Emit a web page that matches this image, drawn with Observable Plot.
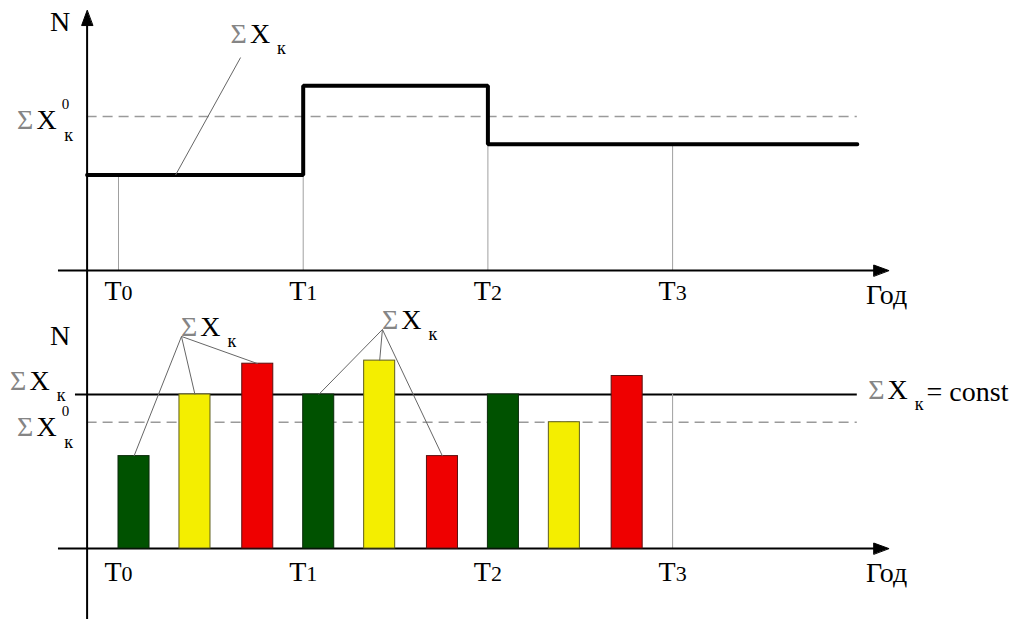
<!DOCTYPE html>
<html>
<head>
<meta charset="utf-8">
<script src="https://cdn.jsdelivr.net/npm/d3@7"></script>
<script src="https://cdn.jsdelivr.net/npm/@observablehq/plot@0.6"></script>
<style>
  html, body { margin: 0; padding: 0; background: #fff; }
  #chart svg { display: block; }
</style>
</head>
<body>
<div id="chart"></div>
<script>
// ---- Data -------------------------------------------------------------
// Period boundaries on the time axis (in periods from T0)
const periods = [0, 1, 2, 3];
const periodLabels = ["T0", "T1", "T2", "T3"];

// Upper panel: total ΣXк as a step function of time
const stepTimes = [-0.17, 1, 2, 4];
const stepValues = [62, 120, 82, 82];
const normTop = 100;            // ΣXк⁰ level in the upper panel

// Lower panel: contributions per sub-period
const barStarts = [0, 0.33, 0.67, 1, 1.33, 1.67, 2, 2.33, 2.67];
const barValues = [60, 100, 120, 100, 122, 60, 100, 82, 112];
const barKinds  = ["green", "yellow", "red", "green", "yellow", "red", "green", "yellow", "red"];
const constLevel = 100;         // ΣXк = const
const normBottom = 82;          // ΣXк⁰ level in the lower panel

// Which bars each ΣXк callout points to
const calloutBars = [[0, 1, 2], [3, 4, 5]];

// ---- Layout -----------------------------------------------------------
const W = 1023;
const pxPerPeriod = 184.7, originPx = 118;   // T0 sits at x = 118 px
const pxPerUnit = 1.54;
const topH = 305, topAxisPx = 270;
const botH = 314, botAxisPx = 243;
const xDomain = [-originPx / pxPerPeriod, (W - originPx) / pxPerPeriod];
const topDomain = [-(topH - topAxisPx) / pxPerUnit, topAxisPx / pxPerUnit];
const botDomain = [-(botH - botAxisPx) / pxPerUnit, botAxisPx / pxPerUnit];

const yAxisT = -0.17;       // vertical N axis
const xAxisStart = -0.325;  // left stub of the time axis
const xAxisEnd = 4.17;      // arrow tip of the time axis
const lineEnd = 4;          // right end of level lines
const yArrowTip = 168.8;    // arrow tip of the N axis
const barWidth = 0.168;

const barColors = {green: "#005200", yellow: "#f4ee00", red: "#ef0000"};
const barStrokes = {green: "#0b2a0b", yellow: "#5e5d1c", red: "#5a1010"};

// callout anchors (leader origin) and label offsets
const topCallout = {x: 0.661, y: 138.3, toX: 0.309, dx: -10, dy: -15};
const botCallouts = [
  {x: 0.341, y: 137.7, dx: -31, dy: -8},
  {x: 1.429, y: 142.2, dx: -14, dy: -12}
];

// ---- Helpers ----------------------------------------------------------
const serif = {fontFamily: "Liberation Serif", fontSize: 28, fill: "black", lineAnchor: "bottom"};
const panelStyle = {background: "transparent", overflow: "visible"};

const arrowHead = {
  draw(context, l) {
    context.moveTo(0, -l);
    context.lineTo(-5.5, 0);
    context.lineTo(5.5, 0);
    context.closePath();
  }
};

function levelAt(t) {
  let v = stepValues[0];
  for (let i = 0; i < stepTimes.length; ++i) if (stepTimes[i] <= t) v = stepValues[i];
  return v;
}

// Turn plain label strings into typeset ones (Σ, subscript к, superscript 0, T digits)
function typeset(svg) {
  const NS = "http://www.w3.org/2000/svg";
  const add = (t, s, attrs = {}) => {
    const ts = document.createElementNS(NS, "tspan");
    for (const [k, v] of Object.entries(attrs)) ts.setAttribute(k, v);
    ts.textContent = s;
    t.appendChild(ts);
  };
  svg.querySelectorAll("text").forEach((t) => {
    const s = t.textContent;
    let m;
    if ((m = /^T(\d)$/.exec(s))) {
      t.textContent = "";
      add(t, "T");
      add(t, m[1], {"font-size": 22});
    } else if (s.startsWith("Σ")) {
      const sup = s.includes("⁰");
      const rest = s.replace(/^ΣX⁰?к/, "");
      t.textContent = "";
      add(t, "Σ", {fill: "#858585"});
      add(t, "X", {dx: 3});
      if (sup) {
        add(t, "0", {"font-size": 15, dx: 5, dy: -20});
        add(t, "к", {"font-size": 18, dx: -5, dy: 32});
      } else {
        add(t, "к", {"font-size": 18, dx: 7, dy: 11});
      }
      if (rest) add(t, rest, {dx: 3, dy: -9});
    }
  });
  return svg;
}

const axisMarks = (domain, withArrowUp) => [
  Plot.ruleY([{y: 0, x1: xAxisStart, x2: xAxisEnd - 0.03}], {y: "y", x1: "x1", x2: "x2", stroke: "black", strokeWidth: 2}),
  Plot.ruleX([{x: yAxisT, y1: domain[0], y2: withArrowUp ? yArrowTip - 8 : domain[1]}], {x: "x", y1: "y1", y2: "y2", stroke: "black", strokeWidth: 2}),
  Plot.vector([{x: xAxisEnd, y: 0}], {x: "x", y: "y", rotate: 90, length: 15, anchor: "end", shape: arrowHead, fill: "black", stroke: "black", strokeWidth: 1}),
  ...(withArrowUp ? [Plot.vector([{x: yAxisT, y: yArrowTip}], {x: "x", y: "y", rotate: 0, length: 15, anchor: "end", shape: arrowHead, fill: "black", stroke: "black", strokeWidth: 1})] : [])
];

// ---- Upper panel ------------------------------------------------------
const stepData = stepTimes.map((t, i) => ({t, v: stepValues[i]}));
const ticks = periods.map((t, i) => ({t, label: periodLabels[i]}));

const upperPanel = Plot.plot({
  width: W, height: topH,
  marginTop: 0, marginRight: 0, marginBottom: 0, marginLeft: 0,
  style: panelStyle,
  x: {domain: xDomain, axis: null},
  y: {domain: topDomain, axis: null},
  marks: [
    Plot.ruleY([{v: normTop, x1: yAxisT, x2: lineEnd}], {y: "v", x1: "x1", x2: "x2", stroke: "#9a9a9a", strokeWidth: 1.5, strokeDasharray: "10,6"}),
    Plot.ruleX(ticks, {x: "t", y1: () => 0, y2: (d) => levelAt(d.t), stroke: "#a0a0a0", strokeWidth: 1}),
    ...axisMarks(topDomain, true),
    Plot.line(stepData, {x: "t", y: "v", curve: "step-after", stroke: "black", strokeWidth: 4, strokeLinejoin: "miter"}),
    Plot.link([topCallout], {x1: "x", y1: "y", x2: "toX", y2: (d) => levelAt(d.toX), stroke: "#666", strokeWidth: 1}),
    Plot.text(ticks, {x: "t", y: () => 0, text: "label", dy: 29, textAnchor: "middle", ...serif}),
    Plot.text([{t: xAxisEnd}], {x: "t", y: () => 0, text: () => "Год", dy: 33, dx: -2, textAnchor: "middle", ...serif}),
    Plot.text([{t: yAxisT}], {x: "t", y: () => yArrowTip, text: () => "N", dx: -27, dy: 20, textAnchor: "middle", ...serif}),
    Plot.text([{t: yAxisT}], {x: "t", y: () => normTop, text: () => "ΣX⁰к", dx: -70, dy: 12, textAnchor: "start", ...serif}),
    Plot.text([topCallout], {x: "x", y: "y", text: () => "ΣXк", dx: topCallout.dx, dy: topCallout.dy, textAnchor: "start", ...serif})
  ]
});

// ---- Lower panel ------------------------------------------------------
const bars = barStarts.map((s, i) => ({s, e: s + barWidth, v: barValues[i], kind: barKinds[i]}));
const leaders = botCallouts.flatMap((c, k) =>
  calloutBars[k].map((b) => ({x1: c.x, y1: c.y, x2: (bars[b].s + bars[b].e) / 2, y2: bars[b].v}))
);

const lowerPanel = Plot.plot({
  width: W, height: botH,
  marginTop: 0, marginRight: 0, marginBottom: 0, marginLeft: 0,
  style: panelStyle,
  x: {domain: xDomain, axis: null},
  y: {domain: botDomain, axis: null},
  marks: [
    Plot.ruleY([{v: normBottom, x1: yAxisT, x2: lineEnd}], {y: "v", x1: "x1", x2: "x2", stroke: "#9a9a9a", strokeWidth: 1.5, strokeDasharray: "10,6"}),
    Plot.ruleY([{v: constLevel, x1: -0.233, x2: lineEnd}], {y: "v", x1: "x1", x2: "x2", stroke: "black", strokeWidth: 2}),
    Plot.ruleX([{t: periods[3]}], {x: "t", y1: () => 0, y2: () => constLevel, stroke: "#a0a0a0", strokeWidth: 1}),
    ...axisMarks(botDomain, false),
    Plot.rect(bars, {x1: "s", x2: "e", y1: () => 0, y2: "v", fill: (d) => barColors[d.kind], stroke: (d) => barStrokes[d.kind], strokeWidth: 1}),
    Plot.link(leaders, {x1: "x1", y1: "y1", x2: "x2", y2: "y2", stroke: "#666", strokeWidth: 1}),
    Plot.text(ticks, {x: "t", y: () => 0, text: "label", dy: 32, textAnchor: "middle", ...serif}),
    Plot.text([{t: xAxisEnd}], {x: "t", y: () => 0, text: () => "Год", dy: 33, dx: -2, textAnchor: "middle", ...serif}),
    Plot.text([{t: yAxisT}], {x: "t", y: () => constLevel, text: () => "N", dx: -27, dy: -50, textAnchor: "middle", ...serif}),
    Plot.text([{t: yAxisT}], {x: "t", y: () => constLevel, text: () => "ΣXк", dx: -77, dy: -5, textAnchor: "start", ...serif}),
    Plot.text([{t: yAxisT}], {x: "t", y: () => normBottom, text: () => "ΣX⁰к", dx: -70, dy: 14, textAnchor: "start", ...serif}),
    Plot.text([{t: lineEnd}], {x: "t", y: () => constLevel, text: () => "ΣXк= const", dx: 11, dy: 4, textAnchor: "start", ...serif}),
    Plot.text(botCallouts, {x: "x", y: "y", text: () => "ΣXк", dx: (d) => d.dx, dy: (d) => d.dy, textAnchor: "start", ...serif})
  ]
});

const chart = document.getElementById("chart");
chart.appendChild(typeset(upperPanel));
chart.appendChild(typeset(lowerPanel));
</script>
</body>
</html>
